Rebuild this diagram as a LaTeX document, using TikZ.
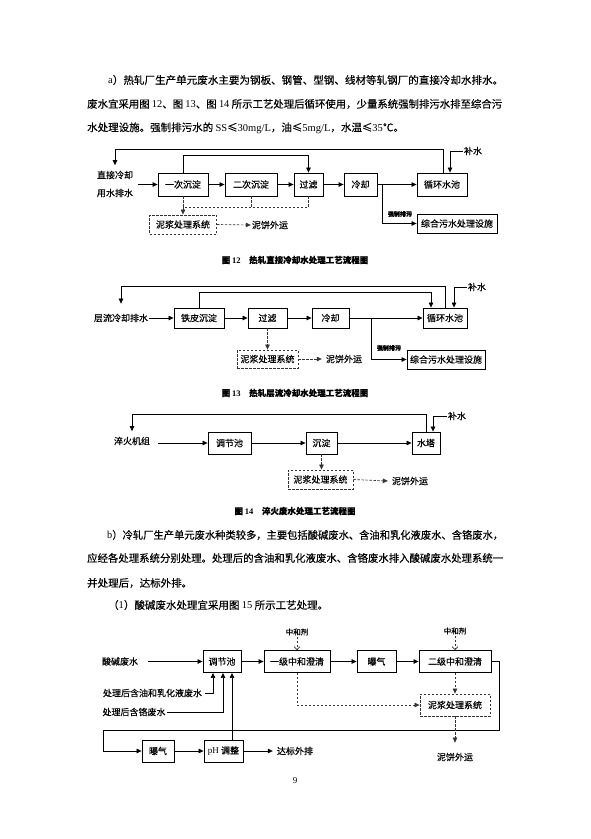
\documentclass[tikz,border=0pt]{standalone}
\usepackage{fontspec}
\setmainfont{Noto Sans CJK SC}[FakeBold=0.3]
\newfontfamily\lat{Liberation Serif}
\usetikzlibrary{arrows.meta,calc}
\tikzset{
 sz/.style 2 args={minimum width=#1,minimum height=#2},
 bx/.style={draw=black, line width=0.9pt, inner sep=0pt, fill=white, font=\fontsize{9}{10}\selectfont},
 dbx/.style={draw=black!80, line width=0.9pt, dash pattern=on 2.5pt off 1.5pt, inner sep=0pt, font=\fontsize{9}{10}\selectfont},
 lbl/.style={inner sep=1pt, font=\fontsize{9}{10}\selectfont},
 ln/.style={line width=0.65pt},
 ar/.style={ln, -{Triangle[length=5pt,width=4.5pt]}},
 dln/.style={line width=0.65pt, draw=black!80, dash pattern=on 2.5pt off 1.5pt},
 dar/.style={dln, -{Triangle[length=5pt,width=4.5pt]}},
 vbarb/.style={dln, -{Straight Barb[length=3pt,width=6pt]}},
 bodytxt/.style={inner sep=0pt, anchor=west, font=\fontsize{10.5}{12}\selectfont},
 captxt/.style={inner sep=0pt, font=\fontsize{8.5}{10}\selectfont\bfseries},
 smalltxt/.style={inner sep=0pt, font=\fontsize{6}{7}\selectfont\bfseries},
 zhtxt/.style={inner sep=1pt, font=\fontsize{7.5}{8}\selectfont},
}
\begin{document}
\begin{tikzpicture}[x=1pt,y=-1pt]
\fill[white] (0,0) rectangle (591,839);
\useasboundingbox (0,0) rectangle (591,839);

% ---- text a
\node[bodytxt] (a1) at (108,80) {\resizebox{395pt}{\height}{{\lat a}）热轧厂生产单元废水主要为钢板、钢管、型钢、线材等轧钢厂的直接冷却水排水。}};
\node[bodytxt] (a2) at (87,104) {\resizebox{415pt}{\height}{废水宜采用图 {\lat 12}、图 {\lat 13}、图 {\lat 14} 所示工艺处理后循环使用，少量系统强制排污水排至综合污}};
\node[bodytxt] (a3) at (87,128) {水处理设施。强制排污水的 {\lat SS}≤{\lat 30mg/L}，油≤{\lat 5mg/L}，水温≤{\lat 35}℃。};

% ---- Figure 12
\coordinate (k12) at (115,149);
\node[lbl, align=center, inner sep=2pt, font=\fontsize{9}{18}\selectfont] (t12) at (115,184) {直接冷却\\用水排水};
\node[bx, sz={50pt}{23pt}] (n1) at (183,184.5) {一次沉淀};
\node[bx, sz={52pt}{23pt}] (n2) at (251,184.5) {二次沉淀};
\node[bx, sz={29pt}{23pt}] (n3) at (308.5,184.5) {过滤};
\node[bx, sz={33pt}{23pt}] (n4) at (360.5,184.5) {冷却};
\node[bx, sz={50pt}{23pt}] (n5) at (442,184.5) {循环水池};
\node[bx, sz={80pt}{19pt}] (n6) at (457,223.5) {综合污水处理设施};
\node[dbx, sz={67pt}{19pt}] (m1) at (183,224.5) {泥浆处理系统};
\node[lbl] (c12) at (270,225) {泥饼外运};
\node[lbl] (bs12) at (473,151) {补水};
\node[smalltxt] (f12) at (400,214) {强制排污};
\node[captxt] (cap12) at (295,260) {图 {\lat 12}\hspace{1em}热轧直接冷却水处理工艺流程图};
\coordinate (b12) at (382,184.5);
\coordinate (j12) at (183,207);
\coordinate (s12) at (138,184.5);
\draw[ar] ([xshift=1pt]n5.north) |- (k12) -- ([yshift=3.5pt]t12.north);
\draw[ar] (n1.north) -- ++(0,-17) -| (n3.north);
\draw[ar] (s12) -- (n1.west);
\draw[ar] (n1) -- (n2);
\draw[ar] (n2) -- (n3);
\draw[ar] (n3) -- (n4);
\draw[ar] (n4) -- (n5);
\draw[ar] (b12) |- (n6.west);
\draw[ar] (bs12.west) -| ([xshift=8pt]n5.north);
\draw[dar] (n1.south) -- (m1.north);
\draw[dln] (n3.south) |- (j12);
\draw[dln] (n2.south) -- (n2.south |- j12);
\draw[dar] (m1.east) -- (c12.west);

% ---- Figure 13
\coordinate (k13) at (121,286);
\node[lbl] (t13) at (121,318) {层流冷却排水};
\node[bx, sz={50pt}{20pt}] (p1) at (199,318) {铁皮沉淀};
\node[bx, sz={39pt}{20pt}] (p2) at (267.5,318) {过滤};
\node[bx, sz={37pt}{20pt}] (p3) at (330.5,318) {冷却};
\node[bx, sz={44pt}{20pt}] (p4) at (445,318) {循环水池};
\node[bx, sz={78pt}{19pt}] (p5) at (446,359.5) {综合污水处理设施};
\node[dbx, sz={61pt}{18pt}] (q1) at (267.5,359) {泥浆处理系统};
\node[lbl, inner sep=4pt] (c13) at (344,359) {泥饼外运};
\node[lbl] (bs13) at (477,287) {补水};
\node[smalltxt] (f13) at (389,348) {强制排污};
\node[captxt] (cap13) at (295,393) {图 {\lat 13}\hspace{1em}热轧层流冷却水处理工艺流程图};
\coordinate (b13) at (371,318);
\draw[ar] (p4.north) |- (k13) -- ([yshift=9pt]t13.north);
\draw[ar] (p1.north) -- ++(0,-15) -| ([xshift=-14pt]p4.north);
\draw[ar] (t13.east) -- (p1.west);
\draw[ar] (p1) -- (p2);
\draw[ar] (p2) -- (p3);
\draw[ar] (p3) -- (p4);
\draw[ar] (b13) |- (p5.west);
\draw[ar] (bs13.west) -| ([xshift=9pt]p4.north);
\draw[dar] (p2.south) -- (q1.north);
\draw[dar] (q1.east) -- (c13.west);

% ---- Figure 14
\coordinate (k14) at (132,414);
\coordinate (s14) at (158,443);
\node[lbl] (t14) at (132,441) {淬火机组};
\node[bx, sz={43pt}{22pt}] (r1) at (229.5,443) {调节池};
\node[bx, sz={31pt}{22pt}] (r2) at (321.5,443) {沉淀};
\node[bx, sz={28pt}{22pt}] (r3) at (426,443) {水塔};
\node[dbx, sz={65pt}{19pt}] (s1) at (320.5,479.5) {泥浆处理系统};
\node[lbl, inner sep=4pt] (c14) at (410,481) {泥饼外运};
\node[lbl] (bs14) at (457,416) {补水};
\node[captxt] (cap14) at (295,511) {图 {\lat 14}\hspace{1em}淬火废水处理工艺流程图};
\draw[ar] (r3.north) |- (k14) -- ([yshift=4.5pt]t14.north);
\draw[ar] (s14) -- (r1.west);
\draw[ar] (r1) -- (r2);
\draw[ar] (r2) -- (r3);
\draw[ar] (bs14.west) -| ([xshift=7pt]r3.north);
\draw[dar] (r2.south) -- (r2.south |- s1.north);
\draw[dar] (s1.east) -- (c14.west);

% ---- text b
\node[bodytxt] (b1) at (107,535) {\resizebox{396pt}{\height}{{\lat b}）冷轧厂生产单元废水种类较多，主要包括酸碱废水、含油和乳化液废水、含铬废水，}};
\node[bodytxt] (b2) at (87,558) {\resizebox{416pt}{\height}{应经各处理系统分别处理。处理后的含油和乳化液废水、含铬废水排入酸碱废水处理系统一}};
\node[bodytxt] (b3) at (87,583) {并处理后，达标外排。};
\node[bodytxt] (b4) at (108,605) {（{\lat 1}）酸碱废水处理宜采用图 {\lat 15} 所示工艺处理。};

% ---- Figure 15
\coordinate (s15) at (148,661.5);
\coordinate (L1) at (499,730);
\coordinate (L2) at (103,730);
\node[lbl] (u0) at (120,661.5) {酸碱废水};
\node[bx, sz={38pt}{22pt}] (u1) at (222,661.5) {调节池};
\node[bx, sz={66pt}{22pt}] (u2) at (297,661.5) {一级中和澄清};
\node[bx, sz={39pt}{22pt}] (u3) at (376.5,661.5) {曝气};
\node[bx, sz={72pt}{22pt}] (u4) at (455,661.5) {二级中和澄清};
\node[dbx, sz={70pt}{22pt}] (v1) at (455,705) {泥浆处理系统};
\node[bx, sz={32pt}{22pt}] (u5) at (158,751) {曝气};
\node[bx, sz={39pt}{22pt}] (u6) at (223.5,751) {{\lat pH} 调整};
\node[lbl, inner sep=4pt] (u7) at (295,751) {达标外排};
\node[lbl, inner sep=3pt] (w1) at (152.5,693) {处理后含油和乳化液废水};
\node[lbl] (w2) at (134,712) {处理后含铬废水};
\node[lbl] (u8) at (455,757) {泥饼外运};
\node[zhtxt] (z1) at (297,632) {中和剂};
\node[zhtxt] (z2) at (455,631) {中和剂};
\draw[ar] (s15) -- (u1.west);
\draw[ar] (u1) -- (u2);
\draw[ar] (u2) -- (u3);
\draw[ar] (u3) -- (u4);
\draw[ar] (u4.east) -| (L1) -- (L2) |- (u5.west);
\draw[ar] (u5) -- (u6);
\draw[ar] (u6) -- (u7.west);
\draw[ar] ([xshift=8.5pt]u6.north) -- ([xshift=10pt]u1.south);
\draw[ar] (w1.east) -| ([xshift=-9pt]u1.south);
\draw[ar] (w2.east) -| ([xshift=1pt]u1.south);
\draw[vbarb] (z1.south) -- (u2.north);
\draw[vbarb] (z2.south) -- (u4.north);
\draw[dar] (u2.south) |- (v1.west);
\draw[dar] (u4.south) -- (v1.north);
\draw[dar] (v1.south) -- ([yshift=9pt]u8.north);

% ---- page number
\node[lbl] (pg) at (295,781) {\lat 9};
\end{tikzpicture}
\end{document}
